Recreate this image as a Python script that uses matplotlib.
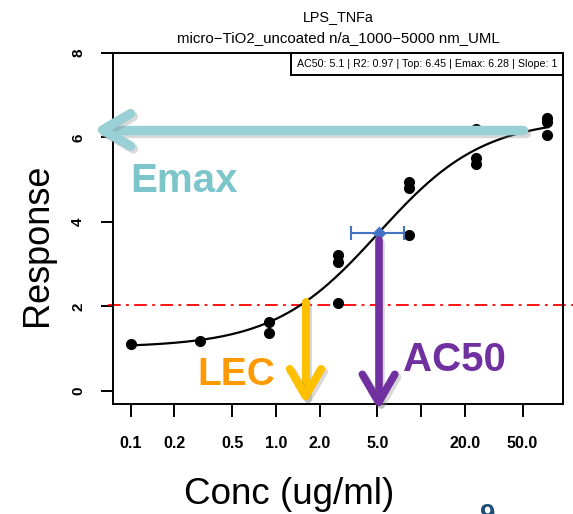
import numpy as np
import matplotlib.pyplot as plt
import matplotlib.patheffects as pe
from matplotlib.offsetbox import AnchoredText

plt.rcParams['font.family'] = ['Liberation Sans', 'DejaVu Sans']

# --- data ---
conc = [0.1, 0.3, 0.9, 0.9, 2.7, 2.7, 2.7, 8.2, 8.2, 8.2, 24, 24, 24, 74, 74, 74]
resp = [1.11, 1.17, 1.62, 1.37, 2.08, 3.22, 3.05, 3.69, 4.95, 4.80,
        6.20, 5.51, 5.37, 6.46, 6.37, 6.06]

# fitted Hill curve parameters
ac50 = 5.1
top = 6.45
bottom = 1.03
slope = 1.2
ac50_ci = (3.27, 7.6)
lec = 1.6
threshold = 2.04
emax_level = 6.18

xticks = [0.1, 0.2, 0.5, 1.0, 2.0, 5.0, 10.0, 20.0, 50.0]
xlabels = ['0.1', '0.2', '0.5', '1.0', '2.0', '5.0', '', '20.0', '50.0']
yticks = [0, 2, 4, 6, 8]

fig = plt.figure(figsize=(5.73, 5.14), dpi=100)
ax = fig.add_axes([0.1972, 0.214, 0.7853, 0.6829])
ax.set_xscale('log')
ax.set_xlim(0.0755, 95)
ax.set_ylim(-0.31, 8)

for s in ax.spines.values():
    s.set_linewidth(1.4)
ax.set_xticks(xticks)
ax.set_xticklabels(xlabels, fontsize=11.5, fontweight='bold')
ax.xaxis.set_minor_locator(plt.NullLocator())
ax.set_yticks(yticks)
ax.set_yticklabels([str(v) for v in yticks], fontsize=11, fontweight='bold',
                   rotation=90, va='center')
ax.tick_params(axis='x', length=9, width=1.4, pad=14)
ax.tick_params(axis='y', length=9, width=1.4, pad=11)

# fitted curve
xs = np.logspace(np.log10(0.1), np.log10(75), 300)
ys = bottom + (top - bottom) / (1 + (ac50 / xs) ** slope)
ax.plot(xs, ys, color='black', lw=1.6, zorder=3)
ax.plot(conc, resp, 'o', color='black', ms=7, zorder=4)

# threshold line
ax.axhline(threshold, xmin=-0.012, xmax=1.03, color='red', lw=1.3,
           dashes=(7, 3, 1.5, 3), clip_on=False, zorder=2)

# AC50 with interval
ax.errorbar([ac50], [(top + bottom) / 2],
            xerr=[[ac50 - ac50_ci[0]], [ac50_ci[1] - ac50]],
            fmt='D', color='#4472C4', ms=6, lw=1.5, capsize=5, capthick=1.5, zorder=6)

shadow = [pe.SimpleLineShadow(offset=(2, -2), shadow_color='gray', alpha=0.3), pe.Normal()]


def arrow(x0, y0, x1, y1, color, lw, head):
    # shaft from (x0,y0) to tip (x1,y1); chevron head in pixels
    t = ax.transData
    p0 = t.transform((x0, y0))
    p1 = t.transform((x1, y1))
    d = (p1 - p0) / np.hypot(*(p1 - p0))
    n = np.array([-d[1], d[0]])
    w1 = p1 - d * head + n * head * 0.58
    w2 = p1 - d * head - n * head * 0.58
    inv = t.inverted()
    pts = inv.transform(np.array([p0, p1]))
    h = inv.transform(np.array([w1, p1, w2]))
    kw = dict(color=color, lw=lw, solid_capstyle='round', solid_joinstyle='round',
              clip_on=False, zorder=7, path_effects=shadow)
    ax.plot(pts[:, 0], pts[:, 1], **kw)
    ax.plot(h[:, 0], h[:, 1], **kw)


arrow(50.5, emax_level, 0.064, emax_level, '#99D0D6', 6.8, 28)
arrow(lec, 2.11, lec, -0.12, '#FFC000', 5.8, 27)
arrow(ac50, 3.57, ac50, -0.27, '#7030A0', 5.5, 28)

ax.text(0.1, 4.72, 'Emax', color='#7CC5CA', fontsize=29, fontweight='bold', zorder=8)
ax.text(0.29, 0.14, 'LEC', color='#FF9900', fontsize=28, fontweight='bold', zorder=8)
ax.text(7.5, 0.48, 'AC50', color='#7030A0', fontsize=29, fontweight='bold', zorder=8)

at = AnchoredText('AC50: 5.1 | R2: 0.97 | Top: 6.45 | Emax: 6.28 | Slope: 1',
                  loc='upper right', prop=dict(size=7.7), pad=0.55, borderpad=0.0)
at.patch.set_linewidth(1.4)
at.patch.set_boxstyle('square,pad=0')
ax.add_artist(at)

fig.text(0.59, 1 - 20.7 / 514, 'LPS_TNFa', ha='center', va='baseline', fontsize=10.4)
fig.text(0.59, 1 - 41.7 / 514, 'micro\u2212TiO2_uncoated n/a_1000\u22125000 nm_UML',
         ha='center', va='baseline', fontsize=10.8)

fig.text(38 / 573, 1 - 245 / 514, 'Response', rotation=90, ha='center', va='center', fontsize=26)
fig.text(289 / 573, 1 - 495 / 514, 'Conc (ug/ml)', ha='center', va='center', fontsize=26.5)
fig.text(488 / 573, 1 - 503 / 514, '9', ha='center', va='top', fontsize=20,
         fontweight='bold', color='#1F4E79')

fig.savefig('out.png', dpi=100, facecolor='white')
